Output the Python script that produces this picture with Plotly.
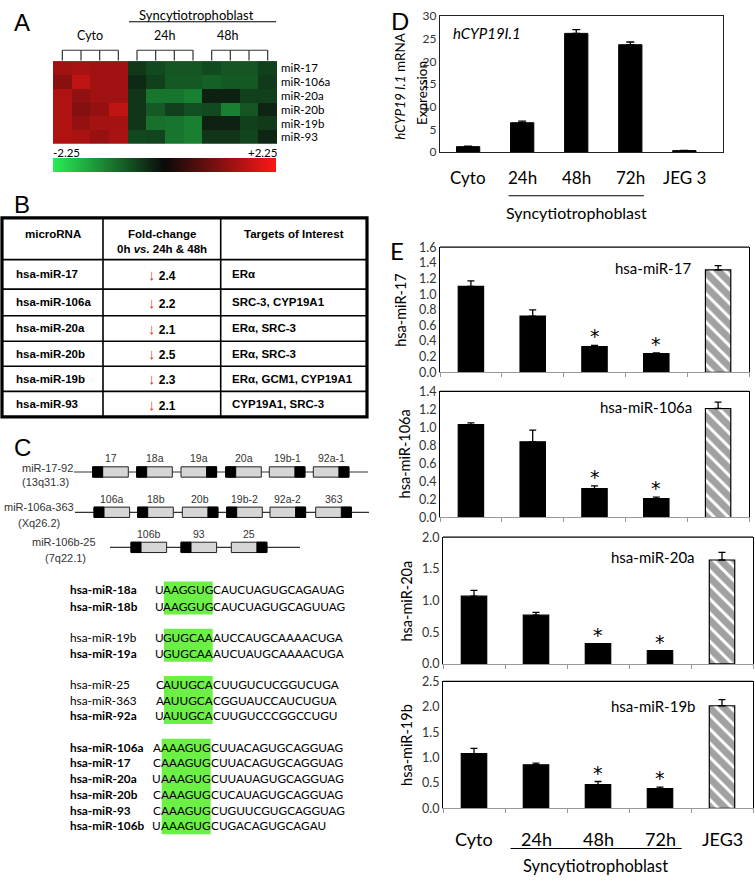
import plotly.graph_objects as go

W, H = 755, 883
def px(x): return x / W
def py(y): return 1 - y / H

SANS = "Lato"
HELV = "Liberation Sans"

# ---------------- Panel A : heat map data ----------------
heat_rows = ["miR-17", "miR-106a", "miR-20a", "miR-20b", "miR-19b", "miR-93"]
heat_groups = ["Cyto", "24h", "48h"]
heat_cols = [0, 1, 2, 3, 4, 5, 6, 7, 8, 9, 10, 11]
heat_group_cols = [[0, 1, 2, 3], [4, 5, 6, 7], [8, 9, 10, 11]]
heat_values = [
    [1.38, 1.45, 1.38, 1.38, -0.45, -0.63, -0.74, -0.74, -0.63, -0.74, -0.74, -0.53],
    [1.18, 1.67, 1.38, 1.38, -0.32, -0.53, -0.77, -0.77, -0.85, -0.77, -0.77, -0.47],
    [1.52, 1.23, 1.38, 1.38, -0.42, -1.06, -1.06, -1.16, -0.22, -0.22, -0.53, -0.53],
    [1.52, 1.13, 1.28, 1.67, -0.42, -0.79, -0.53, -0.69, -0.63, -1.16, -0.74, -0.27],
    [1.52, 1.28, 1.42, 1.42, -0.42, -1.01, -1.06, -1.16, -0.22, -0.22, -0.53, -0.47],
    [1.52, 1.47, 1.30, 1.45, -0.61, -0.58, -1.06, -1.16, -0.42, -0.42, -0.58, -0.27],
]
heat_limits = [-2.25, 2.25]
heat_limit_labels = ["-2.25", "+2.25"]

# ---------------- Panel B : table data ----------------
tbl_mirna = ["hsa-miR-17", "hsa-miR-106a", "hsa-miR-20a", "hsa-miR-20b", "hsa-miR-19b", "hsa-miR-93"]
tbl_fold = ["2.4", "2.2", "2.1", "2.5", "2.3", "2.1"]
tbl_targets = ["ERα", "SRC-3, CYP19A1", "ERα, SRC-3", "ERα, SRC-3", "ERα, GCM1, CYP19A1", "CYP19A1, SRC-3"]

# ---------------- Panel C : clusters and sequences ----------------
cluster_names = ["miR-17-92", "miR-106a-363", "miR-106b-25"]
cluster_loci = ["(13q31.3)", "(Xq26.2)", "(7q22.1)"]
cluster_members = [["17", "18a", "19a", "20a", "19b-1", "92a-1"],
                   ["106a", "18b", "20b", "19b-2", "92a-2", "363"],
                   ["106b", "93", "25"]]
cluster_black_end = [["L", "L", "R", "L", "R", "R"],
                     ["L", "L", "R", "L", "R", "R"],
                     ["L", "L", "R"]]

seq_names = [["hsa-miR-18a", "hsa-miR-18b"],
             ["hsa-miR-19b", "hsa-miR-19a"],
             ["hsa-miR-25", "hsa-miR-363", "hsa-miR-92a"],
             ["hsa-miR-106a", "hsa-miR-17", "hsa-miR-20a", "hsa-miR-20b", "hsa-miR-93", "hsa-miR-106b"]]
seq_bold = [[True, True], [False, True], [False, False, True], [True, True, True, True, True, True]]
seq_text = [["UAAGGUGCAUCUAGUGCAGAUAG", "UAAGGUGCAUCUAGUGCAGUUAG"],
            ["UGUGCAAAUCCAUGCAAAACUGA", "UGUGCAAAUCUAUGCAAAACUGA"],
            ["CAUUGCACUUGUCUCGGUCUGA", "AAUUGCACGGUAUCCAUCUGUA", "UAUUGCACUUGUCCCGGCCUGU"],
            ["AAAAGUGCUUACAGUGCAGGUAG", "CAAAGUGCUUACAGUGCAGGUAG", "UAAAGUGCUUAUAGUGCAGGUAG",
             "CAAAGUGCUCAUAGUGCAGGUAG", "CAAAGUGCUGUUCGUGCAGGUAG", "UAAAGUGCUGACAGUGCAGAU"]]
seed_start, seed_end = 1, 7

# ---------------- Panel D data ----------------
d_categories = ["Cyto", "24h", "48h", "72h", "JEG3"]
d_ticklabels = ["Cyto", "24h", "48h", "72h", "JEG 3"]
d_values = [1.23, 6.5, 26.2, 23.7, 0.36]
d_errors = [0.1, 0.35, 0.85, 0.6, 0.05]

# ---------------- Panel E data ----------------
e_categories = ["Cyto", "24h", "48h", "72h", "JEG3"]
e_ticklabels = ["Cyto", "24h", "48h", "72h", "JEG3"]
e_titles = ["hsa-miR-17", "hsa-miR-106a", "hsa-miR-20a", "hsa-miR-19b"]
e_mir17 = [1.10, 0.72, 0.33, 0.24, 1.31]
e_mir17_err = [0.07, 0.08, 0.015, 0.01, 0.055]
e_mir106a = [1.03, 0.84, 0.32, 0.21, 1.21]
e_mir106a_err = [0.02, 0.13, 0.03, 0.015, 0.07]
e_mir20a = [1.07, 0.77, 0.32, 0.21, 1.64]
e_mir20a_err = [0.09, 0.045, 0.0, 0.0, 0.12]
e_mir19b = [1.08, 0.86, 0.47, 0.39, 2.02]
e_mir19b_err = [0.10, 0.03, 0.06, 0.03, 0.12]
e_significant = [False, False, True, True, False]
e_ymax = [1.6, 1.4, 2.0, 2.5]
e_dtick = [0.2, 0.2, 0.5, 0.5]

# =====================================================================
fig = go.Figure()
annotations = []
shapes = []

def ann(text, x, y, size=12, family=SANS, color="black", xanchor="center", yanchor="middle",
        xref="paper", yref="paper", angle=0, **kw):
    if xref == "paper":
        x = px(x)
    if yref == "paper":
        y = py(y)
    annotations.append(dict(text=text, x=x, y=y, xref=xref, yref=yref, showarrow=False,
                            font=dict(size=size, family=family, color=color),
                            xanchor=xanchor, yanchor=yanchor, textangle=angle, **kw))

def pline(x0, y0, x1, y1, w=1.0, c="black"):
    shapes.append(dict(type="line", xref="paper", yref="paper", x0=px(x0), y0=py(y0),
                       x1=px(x1), y1=py(y1), line=dict(color=c, width=w)))

def prect(x0, y0, x1, y1, fill=None, w=1.0, c="black"):
    shapes.append(dict(type="rect", xref="paper", yref="paper", x0=px(x0), y0=py(y0),
                       x1=px(x1), y1=py(y1), fillcolor=fill if fill else "rgba(0,0,0,0)",
                       line=dict(color=c, width=w)))

# ---------------- Panel A ----------------
fig.add_trace(go.Heatmap(
    z=heat_values, x=heat_cols, y=list(range(len(heat_rows))),
    zmin=heat_limits[0], zmax=heat_limits[1],
    colorscale=[[0, "rgb(40,238,85)"], [0.5, "rgb(10,10,10)"], [1, "rgb(255,22,22)"]],
    xaxis="x", yaxis="y", hoverinfo="skip",
    colorbar=dict(orientation="h", x=px(164.5), xanchor="center", y=py(152.5), yanchor="top",
                  len=223, lenmode="pixels", thickness=14, thicknessmode="pixels",
                  outlinewidth=0, showticklabels=False, ticks="", xpad=0, ypad=0),
))
ann("A", 22, 15, size=24, family=HELV)
ann("Syncytiotrophoblast", 197, 7, size=13)
pline(129, 14, 276, 14, 1.2)
heat_label_x = [1.5, 5.5, 8.9]
for g, cols, lx in zip(heat_groups, heat_group_cols, heat_label_x):
    ann(g, lx, 28, size=12.5, xref="x")
    shapes.append(dict(type="line", xref="x", yref="paper", x0=cols[0], x1=cols[-1],
                       y0=py(43), y1=py(43), line=dict(color="#333", width=1.2)))
    for c in cols:
        shapes.append(dict(type="line", xref="x", yref="paper", x0=c, x1=c,
                           y0=py(43), y1=py(53.5), line=dict(color="#333", width=1.2)))
for i, r in enumerate(heat_rows):
    ann(r, 280, i, size=11.5, xanchor="left", yref="y", borderpad=0)
ann(heat_limit_labels[0], 52, 147.5, size=11.5, xanchor="left", borderpad=0)
ann(heat_limit_labels[1], 278, 147.5, size=11.5, xanchor="right", borderpad=0)

# ---------------- Panel B ----------------
ann("B", 22, 200, size=24, family=HELV)
tb_top, tb_bot, tb_left, tb_right = 213.5, 416, 2, 367
row_lines = [256, 286, 313, 339, 364.5, 390]
col_lines = [103, 220.7]
for yl in row_lines:
    pline(tb_left, yl, tb_right, yl, 1.6)
for xl in col_lines:
    pline(xl, tb_top, xl, tb_bot, 1.6)
prect(tb_left, tb_top, tb_right, tb_bot, w=3.2)
ann("<b>microRNA</b>", 53, 230, size=11.5, family=HELV)
ann("<b>Fold-change</b>", 162, 230, size=11.5, family=HELV)
ann("<b>0h <i>vs.</i> 24h & 48h</b>", 162, 245, size=11.5, family=HELV)
ann("<b>Targets of Interest</b>", 294, 230, size=11.5, family=HELV)
row_bounds = [256] + row_lines[1:] + [tb_bot]
for i in range(len(tbl_mirna)):
    yc = (row_bounds[i] + row_bounds[i + 1]) / 2
    ann("<b>" + tbl_mirna[i] + "</b>", 14, yc, size=11.5, family=HELV, xanchor="left")
    ann("<span style='color:#e23b25;font-size:15px'>↓</span><b> " + tbl_fold[i] + "</b>",
        146, yc, size=12, family=HELV, xanchor="left")
    ann("<b>" + tbl_targets[i] + "</b>", 230, yc, size=11.5, family=HELV, xanchor="left")

# ---------------- Panel C ----------------
ann("C", 22, 447, size=24, family=HELV)
cluster_y = [472, 513, 548.7]
cluster_line_x = [(74, 368), (75, 369), (110, 300)]
cluster_box_x = [[92.7, 136.7, 181, 225.7, 269.3, 313.3],
                 [94, 137.7, 182.3, 226.7, 270, 315.7],
                 [131, 181, 231.3]]
cluster_name_pos = [(75, 467.5), (76, 507.5), (98.5, 543)]
cluster_locus_pos = [(45, 482.5), (39, 524), (65.5, 559)]
BW, BH, BK = 35.6, 10.5, 10
for ci in range(3):
    yc = cluster_y[ci]
    pline(cluster_line_x[ci][0], yc, cluster_line_x[ci][1], yc, 1.2, "#333")
    ann(cluster_names[ci], cluster_name_pos[ci][0], cluster_name_pos[ci][1], size=11,
        family=HELV, color="#333", xanchor="right")
    ann(cluster_loci[ci], cluster_locus_pos[ci][0], cluster_locus_pos[ci][1], size=11,
        family=HELV, color="#333")
    for m, side, x0 in zip(cluster_members[ci], cluster_black_end[ci], cluster_box_x[ci]):
        prect(x0, yc - BH / 2, x0 + BW, yc + BH / 2, fill="#d6d6d6", w=1, c="#222")
        if side == "L":
            prect(x0, yc - BH / 2, x0 + BK, yc + BH / 2, fill="black", w=1, c="black")
        else:
            prect(x0 + BW - BK, yc - BH / 2, x0 + BW, yc + BH / 2, fill="black", w=1, c="black")
        ann(m, x0 + BW / 2, yc - 14, size=10.5, family=HELV, color="#333")

seq_row_y = [[592, 608.5], [640, 656.5], [688, 704, 720], [752, 768, 784, 800, 816, 832]]
seed_block_x = [(164, 212.7), (164, 212.7), (164, 212.7), (161.7, 210.7)]
for gi in range(4):
    ys = seq_row_y[gi]
    bx0, bx1 = seed_block_x[gi]
    shapes.append(dict(type="rect", xref="paper", yref="paper", x0=px(bx0), x1=px(bx1),
                       y0=py(ys[-1] + 8.5), y1=py(ys[0] - 8.5), fillcolor="#6cf045",
                       line=dict(width=0), layer="below"))
    for name, bold, seq, yv in zip(seq_names[gi], seq_bold[gi], seq_text[gi], ys):
        ann("<b>" + name + "</b>" if bold else name, 69, yv, size=11.8, xanchor="left", borderpad=0)
        ann(seq[:seed_start], bx0 + 0.5, yv, size=11.8, xanchor="right", borderpad=0)
        ann(seq[seed_start:seed_end], (bx0 + bx1) / 2, yv, size=11.8, borderpad=0)
        ann(seq[seed_end:], bx1 - 0.5, yv, size=11.8, xanchor="left", borderpad=0)

# ---------------- Panel D ----------------
fig.add_trace(go.Bar(
    x=d_categories, y=d_values, xaxis="x2", yaxis="y2", width=0.43,
    marker=dict(color="black", line=dict(color="black", width=1)),
    error_y=dict(type="data", array=d_errors, arrayminus=[0] * len(d_errors), symmetric=False,
                 color="black", thickness=1.3, width=4),
    hoverinfo="skip",
))
ann("D", 400, 13, size=24, family=SANS)
ann("<i>hCYP19I.1</i>", 451, 25, size=15, xanchor="left")
ann("<i>hCYP19 I.1</i> mRNA", 400, 80, size=13.5, angle=-90)
ann("Expression", 421.5, 87, size=13.5, angle=-90)
for c, lab in zip(d_categories, d_ticklabels):
    ann(lab, c, 172, size=17, xref="x2")
shapes.append(dict(type="line", xref="x2", yref="paper", x0=0.75, x1=3.25, y0=py(191), y1=py(191),
                   line=dict(color="black", width=1.2)))
ann("Syncytiotrophoblast", 576, 208, size=16)

# ---------------- Panel E ----------------
e_series = [(e_mir17, e_mir17_err), (e_mir106a, e_mir106a_err),
            (e_mir20a, e_mir20a_err), (e_mir19b, e_mir19b_err)]
e_domains = [((440, 749), (243.3, 370.7)), ((440, 749), (390, 518.3)),
             ((443, 753), (538.3, 667.3)), ((443, 753), (685, 814.3))]
e_title_x = [401, 404, 407, 407]
e_label_pos = [(693, 265), (694, 406), (697, 558), (698, 710)]
ann("E", 397, 247, size=24, family=SANS)
layout_axes = {}
for i, ((vals, errs), ((xa, xb), (ya, yb))) in enumerate(zip(e_series, e_domains)):
    n = i + 3
    pattern_shapes = ["\\" if c == "JEG3" else "" for c in e_categories]
    colors = ["white" if c == "JEG3" else "black" for c in e_categories]
    fig.add_trace(go.Bar(
        x=e_categories, y=vals, xaxis=f"x{n}", yaxis=f"y{n}", width=0.41,
        marker=dict(color=colors, line=dict(color="black", width=1.2),
                    pattern=dict(shape=pattern_shapes, fgcolor="black", size=10,
                                 solidity=0.7, fillmode="overlay")),
        error_y=dict(type="data", array=errs, arrayminus=[0] * len(errs), symmetric=False,
                     color="black", thickness=1.3, width=3.5),
        hoverinfo="skip",
    ))
    layout_axes[f"xaxis{n}"] = dict(domain=[px(xa), px(xb)], anchor=f"y{n}", type="category",
                                    range=[-0.5, 4.5], showticklabels=False, ticks="outside",
                                    tickson="boundaries", ticklen=4, tickcolor="#999",
                                    showline=True, linecolor="#999", linewidth=1,
                                    showgrid=False, zeroline=False)
    layout_axes[f"yaxis{n}"] = dict(domain=[py(yb), py(ya)], anchor=f"x{n}",
                                    range=[0, e_ymax[i]], dtick=e_dtick[i], tickformat=".1f",
                                    ticks="", showline=True, mirror=True, linecolor="black",
                                    linewidth=1.2, showgrid=False, zeroline=False,
                                    tickfont=dict(family=SANS, size=12.5, color="#333"))
    shapes.append(dict(type="line", xref=f"x{n} domain", yref=f"y{n} domain", x0=0, x1=1,
                       y0=1, y1=1, line=dict(color="black", width=1.2)))
    ann(e_titles[i], e_title_x[i], (ya + yb) / 2, size=14.5, angle=-90)
    ann(e_titles[i], e_label_pos[i][0], e_label_pos[i][1], size=15, xanchor="right")
    for c, v, e, sig in zip(e_categories, vals, errs, e_significant):
        if sig:
            ann("*", c, v + e, size=19, family="DejaVu Sans", xref=f"x{n}", yref=f"y{n}",
                yanchor="middle", yshift=9)

for c, lab in zip(e_categories, e_ticklabels):
    ann(lab, c, 845, size=18, xref="x6")
shapes.append(dict(type="line", xref="x6", yref="paper", x0=0.59, x1=3.35, y0=py(855), y1=py(855),
                   line=dict(color="black", width=1.2)))
ann("Syncytiotrophoblast", 595, 873, size=16.5)

fig.update_layout(
    width=W, height=H, margin=dict(l=0, r=0, t=0, b=0),
    paper_bgcolor="white", plot_bgcolor="white", showlegend=False,
    bargap=0.5,
    xaxis=dict(domain=[px(53), px(277)], anchor="y", range=[-0.5, 11.5], visible=False),
    yaxis=dict(domain=[py(138), py(54)], anchor="x", range=[5.5, -0.5], visible=False),
    xaxis2=dict(domain=[px(440), px(723.3)], anchor="y2", type="category", range=[-0.52, 4.72],
                showticklabels=False, ticks="", showline=True, mirror=True, linecolor="#222",
                linewidth=1.2, showgrid=False, zeroline=False),
    yaxis2=dict(domain=[py(146.7), py(8.3)], anchor="x2", range=[0, 30], dtick=5,
                ticks="", showline=True, mirror=True, linecolor="#222", linewidth=1.2,
                showgrid=False, zeroline=False, tickfont=dict(family=SANS, size=12, color="#333")),
    annotations=annotations, shapes=shapes,
    font=dict(family=SANS, color="black"),
)
fig.update_layout(**layout_axes)
fig.write_html("out.html", config={"displayModeBar": False},
               post_script="document.body.style.margin='0';document.body.style.padding='0';")
